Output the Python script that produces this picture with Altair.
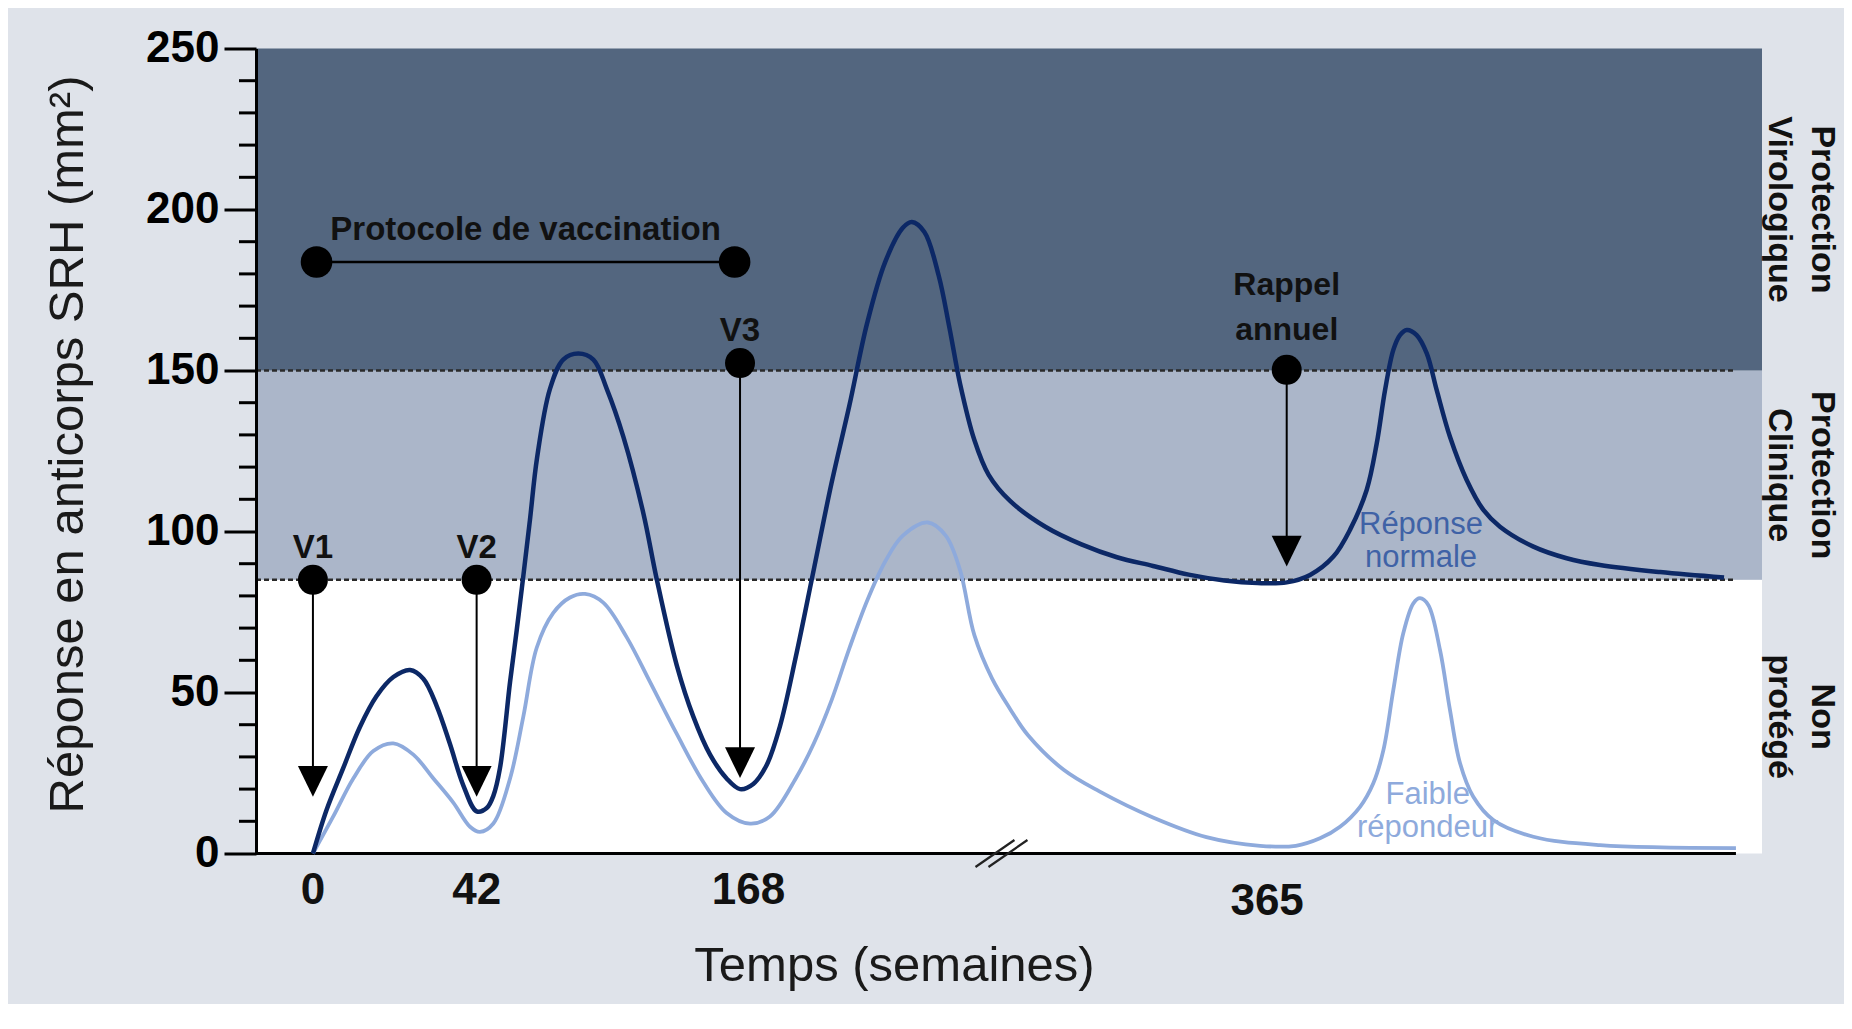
import altair as alt
import pandas as pd

# ---------------- data ----------------
# schematic time position (0..1000 across the plot) and antibody response (mm²)
norm_t = [37.8, 46.9, 57.9, 69, 80.1, 91.2, 102.3, 111.1, 120, 128.8, 137.7, 146.5, 153.2,
          157.6, 162, 168.7, 173.1, 177.3, 181.9, 186.6, 195.2, 204, 214, 224, 232.9, 244,
          257.2, 266, 279.3, 290.4, 301.5, 312.5, 321.4, 330.2, 339.1, 347.9, 358.4, 370.3,
          382.1, 394, 405.8, 417.7, 429.5, 435.5, 443.8, 453.3, 460.4, 467.5, 477, 486.5,
          500.7, 524.4, 548.1, 571.7, 595.6, 619.3, 643, 665, 684.4, 699.9, 715.4, 726.4,
          737.5, 744.2, 749.7, 755.2, 759.6, 764.1, 770.7, 777.4, 784, 792.8, 803.9, 815,
          826, 848.2, 870.3, 892.4, 932.3, 974.8]
norm_v = [0, 13.6, 26.5, 39.3, 48.9, 54.8, 57, 54.3, 45.8, 34, 21.1, 13.1, 14.1,
          17.9, 26.5, 53.3, 69.3, 85.4, 103.6, 122.8, 144.3, 153.4, 155.3, 153.4, 144.3, 129.3,
          105.7, 85.4, 58.6, 42.5, 30.7, 23.3, 20, 21.6, 27.5, 39.5, 61, 88,
          114.9, 139.1, 164.7, 183.6, 194.3, 196.1, 193, 179.5, 163.4, 145.9, 128.4, 117.6,
          109.5, 101.4, 96, 92, 89.3, 86.6, 84.8, 84.0, 84.2, 86.5, 92.2, 100.5,
          112.9, 127.4, 143.9, 156.4, 161, 162.6, 161, 155.3, 143.9, 129.4, 116, 106.7,
          101.5, 95.3, 91.7, 89.6, 87.4, 85.7]

weak_t = [37.8, 51.3, 64.6, 77.9, 91.2, 104.5, 117.8, 131, 142.1, 148.7, 157.6, 168.7,
          177.5, 186.4, 197.4, 208.5, 218.5, 230.6, 246.1, 261.6, 279.3, 297, 312.5, 328,
          341.3, 358.4, 370.3, 382.1, 394, 405.8, 417.7, 429.5, 446.2, 458, 467.5, 477,
          488.8, 500.7, 512.5, 536.3, 560, 595.6, 631.1, 666.7, 690.4, 706.5, 719.8, 733.1,
          741.9, 748.6, 755.2, 761.8, 768.5, 772.9, 778.4, 786.2, 792.8, 799.5, 808.3,
          821.6, 848.2, 892.4, 982.7]
weak_v = [0, 11.5, 23.3, 31.8, 34.2, 30.7, 23.3, 15.8, 8.3, 6.7, 9.3, 23.3,
          42.5, 63.9, 74.7, 79.5, 80.6, 77.9, 67.2, 53.3, 37.2, 22.2, 12.6, 9.3,
          11.5, 23.3, 34.1, 47.5, 63.7, 78.5, 90.6, 98.7, 102.8, 98.7, 88, 67.8,
          54.3, 44.9, 36.8, 26, 19.3, 11.2, 5.1, 2.4, 2.4, 4.7, 8.3, 14.5,
          21.8, 32.1, 50.8, 68.4, 77.7, 79.3, 77.2, 63.2, 44.6, 28, 17.6,
          10.4, 5.2, 2.6, 1.7]

zone_lo = [0, 85, 150]
zone_hi = [85, 150, 250]
zone_names = ["Non\nprotégé", "Protection\nClinique", "Protection\nVirologique"]
zone_fill = ["#ffffff", "#abb6c9", "#53667f"]
thresholds = [85, 150]

dose_names = ["V1", "V2", "V3"]
dose_t = [37.8, 146.5, 321.4]
dose_from = [85, 85, 152.3]
dose_to = [22.5, 22.5, 28.3]

booster_name = ["Rappel\nannuel"]
booster_t = [684.4]
booster_from = [150.2]
booster_to = [94]

protocol_label = "Protocole de vaccination"
protocol_t = [40.2, 317.8]
protocol_v = [183.7, 183.7]

xtick_labels = ["0", "42", "168"]
xtick_t = [37.8, 146.5, 327]
late_label = ["365"]
late_t = [671.4]
break_t = [495]

series_labels = ["Réponse\nnormale", "Faible\nrépondeur"]
series_label_t = [773.6, 778]
series_label_v = [106.7, 22.7]
series_colors = ["#3f62a6", "#8eaadc"]

y_major = [0, 50, 100, 150, 200, 250]
y_minor = [10, 20, 30, 40, 60, 70, 80, 90, 110, 120, 130, 140, 160, 170, 180, 190,
           210, 220, 230, 240]
x_end = 1000
axis_end = 982.7

W, H = 1506, 805
FONT = "Liberation Sans"
NAVY = "#0c2866"
LIGHT = "#8eaadc"
INK = "#111111"

# ---------------- scales & axes ----------------
xs = alt.Scale(domain=[0, x_end], nice=False, zero=False)
ys = alt.Scale(domain=[0, 250], nice=False, zero=False)

nb = "\u00a0"
yaxis = alt.Axis(
    values=y_major, tickSize=32, tickWidth=3, tickColor="black",
    domainColor="black", domainWidth=3, grid=False, zindex=1,
    labelFont=FONT, labelFontWeight="bold", labelFontSize=44, labelColor="black",
    labelPadding=5, labelExpr="datum.value == 50 ? '50" + nb + nb + "' : datum.label",
    title="Réponse en anticorps SRH (mm²)", titleFont=FONT, titleFontSize=49,
    titleFontWeight="normal", titleColor="#1a1a1a", titleAngle=270,
    titleX=-174, titleY=395.5, titleAlign="center", titleBaseline="alphabetic",
)
xaxis = alt.Axis(
    labels=False, ticks=False, domain=False, grid=False,
    title="Temps (semaines)", titleFont=FONT, titleFontSize=49, titleFontWeight="normal",
    titleColor="#1a1a1a", titleX=638, titleY=126.5, titleAlign="center",
    titleBaseline="alphabetic",
)


def X(f):
    return alt.X(f, type="quantitative", scale=xs, axis=xaxis)


def Y(f):
    return alt.Y(f, type="quantitative", scale=ys, axis=yaxis)


def XD(v):
    return alt.X(datum=v, type="quantitative", scale=xs, axis=xaxis)


def YD(v):
    return alt.Y(datum=v, type="quantitative", scale=ys, axis=yaxis)


zones = pd.DataFrame({"lo": zone_lo, "hi": zone_hi, "name": zone_names, "fill": zone_fill})

bands = alt.Chart(zones).mark_rect().encode(
    x=XD(0), x2=alt.X2(datum=x_end),
    y=Y("lo"), y2=alt.Y2("hi:Q"),
    color=alt.Color("fill:N", scale=None),
)

zone_text = alt.Chart(zones).transform_calculate(
    mid="(datum.lo + datum.hi) / 2"
).mark_text(
    angle=90, align="center", baseline="top", lineBreak="\n", lineHeight=43,
    font=FONT, fontSize=34, fontWeight="bold", color=INK,
).encode(x=alt.value(W + 77), y=Y("mid"), text="name:N")

thr = alt.Chart(pd.DataFrame({"v": thresholds})).mark_rule(
    strokeDash=[5, 3], color="#2a2a2a", strokeWidth=2.6
).encode(x=XD(0), x2=alt.X2(datum=axis_end), y=Y("v"))

minor = alt.Chart(pd.DataFrame({"v": y_minor})).mark_rule(
    color="black", strokeWidth=3
).encode(x=alt.value(-17), x2=alt.value(0), y=Y("v"))

xline = alt.Chart(pd.DataFrame({"v": [0]})).mark_rule(
    color="black", strokeWidth=3
).encode(x=XD(0), x2=alt.X2(datum=axis_end), y=Y("v"))

weak_line = alt.Chart(pd.DataFrame({"t": weak_t, "v": weak_v})).mark_line(
    interpolate="catmull-rom", color=LIGHT, strokeWidth=3.8
).encode(x=X("t"), y=Y("v"))

norm_line = alt.Chart(pd.DataFrame({"t": norm_t, "v": norm_v})).mark_line(
    interpolate="catmull-rom", color=NAVY, strokeWidth=4.5
).encode(x=X("t"), y=Y("v"))

arrows = pd.DataFrame({
    "name": dose_names + booster_name,
    "t": dose_t + booster_t,
    "a": dose_from + booster_from,
    "b": dose_to + booster_to,
})

conn = alt.Chart(arrows).mark_rule(color="black", strokeWidth=2).encode(
    x=X("t"), y=Y("a"), y2=alt.Y2("b"))

heads = alt.Chart(arrows).mark_point(
    shape="M-1,-1L1,-1L0,1.05Z", filled=True, size=900, color="black", opacity=1,
    strokeWidth=0,
).encode(x=X("t"), y=Y("b"))

dots = alt.Chart(arrows).mark_circle(size=900, color="black", opacity=1).encode(
    x=X("t"), y=Y("a"))

dose_lbl = alt.Chart(pd.DataFrame({"name": dose_names, "t": dose_t, "a": dose_from})).mark_text(
    baseline="alphabetic", dy=-22, font=FONT, fontSize=33, fontWeight="bold", color=INK
).encode(x=X("t"), y=Y("a"), text="name:N")

boost_lbl = alt.Chart(pd.DataFrame({"name": booster_name, "t": booster_t, "a": booster_from})).mark_text(
    baseline="top", dy=-100, lineBreak="\n", lineHeight=45, font=FONT, fontSize=32,
    fontWeight="bold", color=INK,
).encode(x=X("t"), y=Y("a"), text="name:N")

proto_df = pd.DataFrame({"t": protocol_t, "v": protocol_v})
proto_line = alt.Chart(proto_df).mark_line(color="black", strokeWidth=2.5).encode(
    x=X("t"), y=Y("v"))
proto_dots = alt.Chart(proto_df).mark_circle(size=1000, color="black", opacity=1).encode(
    x=X("t"), y=Y("v"))
proto_lbl = alt.Chart(proto_df).transform_aggregate(
    t="mean(t)", v="mean(v)"
).mark_text(
    text=protocol_label, baseline="alphabetic", dy=-22, font=FONT, fontSize=33,
    fontWeight="bold", color=INK,
).encode(x=X("t"), y=Y("v"))

xt = alt.Chart(pd.DataFrame({"label": xtick_labels, "t": xtick_t})).mark_text(
    baseline="alphabetic", dy=50, font=FONT, fontSize=44, fontWeight="bold", color=INK
).encode(x=X("t"), y=YD(0), text="label:N")

xt_late = alt.Chart(pd.DataFrame({"label": late_label, "t": late_t})).mark_text(
    baseline="alphabetic", dy=61, font=FONT, fontSize=44, fontWeight="bold", color=INK
).encode(x=X("t"), y=YD(0), text="label:N")

brk = alt.Chart(pd.DataFrame({"t": break_t})).mark_point(
    shape="M-1,0.52L0.5,-0.52M-0.5,0.52L1,-0.52", filled=False, size=2700,
    color="#222222", strokeWidth=2.2, opacity=1,
).encode(x=X("t"), y=YD(0))

ser_lbl = alt.Chart(pd.DataFrame({
    "label": series_labels, "t": series_label_t, "v": series_label_v, "c": series_colors,
})).mark_text(
    baseline="top", lineBreak="\n", font=FONT, fontSize=31, color=INK
).encode(
    x=X("t"), y=Y("v"), text="label:N",
    color=alt.Color("c:N", scale=None),
)

chart = alt.layer(
    bands, thr, minor, xline, weak_line, norm_line, conn, heads, dots,
    dose_lbl, boost_lbl, proto_line, proto_dots, proto_lbl, xt, xt_late, brk,
    ser_lbl, zone_text,
).properties(
    width=W, height=H,
    autosize=alt.AutoSizeParams(type="none"),
    padding={"left": 248, "top": 40.5, "right": 82, "bottom": 150},
    background="#dfe3ea",
).configure_view(stroke=None)

chart.save("out.html", embed_options={"renderer": "svg", "actions": False})
